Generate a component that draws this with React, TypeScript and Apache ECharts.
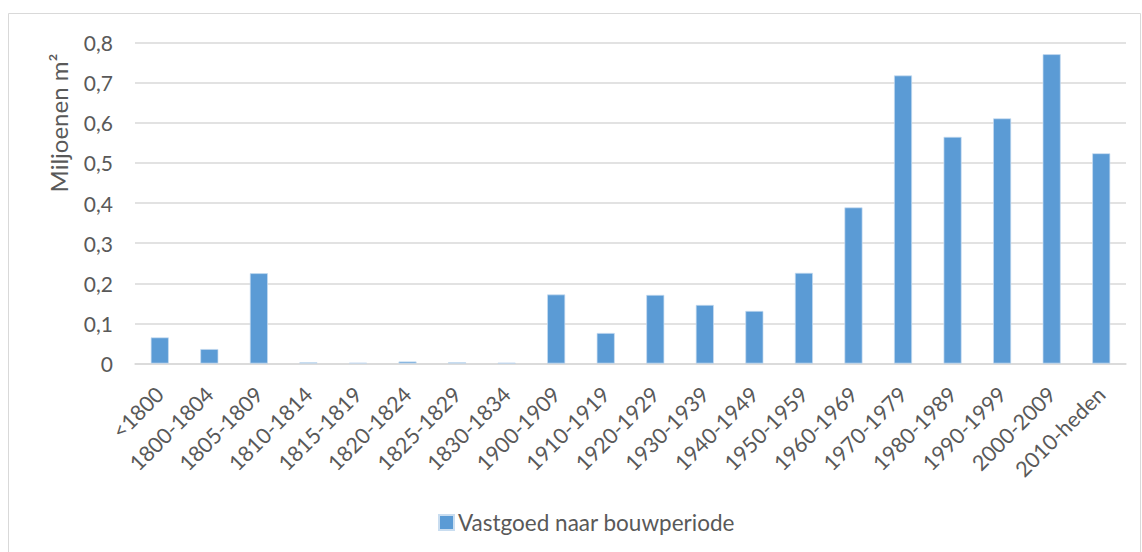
import React, { useEffect, useRef } from "react";
import * as echarts from "echarts";

const categories = [
  "<1800", "1800-1804", "1805-1809", "1810-1814", "1815-1819", "1820-1824",
  "1825-1829", "1830-1834", "1900-1909", "1910-1919", "1920-1929", "1930-1939",
  "1940-1949", "1950-1959", "1960-1969", "1970-1979", "1980-1989", "1990-1999",
  "2000-2009", "2010-heden",
];
const values = [
  0.065, 0.036, 0.225, 0.003, 0.002, 0.005, 0.003, 0.002, 0.172, 0.076,
  0.171, 0.146, 0.131, 0.226, 0.389, 0.718, 0.565, 0.611, 0.771, 0.524,
];
const seriesName = "Vastgoed naar bouwperiode";
const yAxisTitle = "Miljoenen m²";

export default function App() {
  const ref = useRef<HTMLDivElement>(null);
  useEffect(() => {
    if (!ref.current) return;
    const chart = echarts.init(ref.current, null, { renderer: "svg" });
    const font = "Lato, 'Open Sans', sans-serif";
    chart.setOption({
      animation: false,
      textStyle: { fontFamily: font },
      grid: { left: 135, right: 16, top: 42.6, bottom: 188.5 },
      graphic: [
        {
          type: "rect",
          shape: { x: 8.5, y: 13.5, width: 1132, height: 600 },
          style: { fill: "none", stroke: "#d9d9d9", lineWidth: 1 },
          silent: true,
        },
        {
          type: "text",
          x: 58,
          y: 123,
          rotation: Math.PI / 2,
          style: {
            text: yAxisTitle,
            fill: "#595959",
            font: `24px ${font}`,
            textAlign: "center",
            textVerticalAlign: "middle",
          },
        },
      ],
      legend: {
        bottom: 13,
        left: 433,
        itemWidth: 15,
        itemHeight: 15,
        icon: "rect",
        itemGap: 5,
        textStyle: { color: "#595959", fontSize: 22.5, fontFamily: font, padding: [0, 0, 0, -1] },
        data: [seriesName],
      },
      xAxis: {
        type: "category",
        data: categories,
        axisLine: { lineStyle: { color: "#d9d9d9", width: 1.5 } },
        axisTick: { show: false },
        axisLabel: {
          rotate: 45,
          interval: 0,
          color: "#595959",
          fontSize: 21.5,
          margin: 27,
        },
      },
      yAxis: {
        type: "value",
        min: 0,
        max: 0.8,
        interval: 0.1,
        axisLine: { show: false },
        axisTick: { show: false },
        splitLine: { lineStyle: { color: "#d9d9d9", width: 1.5 } },
        axisLabel: {
          color: "#595959",
          fontSize: 21,
          margin: 22,
          formatter: (v: number) => (v === 0 ? "0" : v.toFixed(1).replace(".", ",")),
        },
      },
      series: [
        {
          name: seriesName,
          type: "bar",
          data: values,
          barWidth: 18,
          itemStyle: { color: "#5B9BD5", borderColor: "#C9DDF0", borderWidth: 0.7 },
        },
      ],
    });
    return () => chart.dispose();
  }, []);
  return (
    <div
      ref={ref}
      style={{ position: "absolute", left: 0, top: 0, width: 1142, height: 552 }}
    />
  );
}
